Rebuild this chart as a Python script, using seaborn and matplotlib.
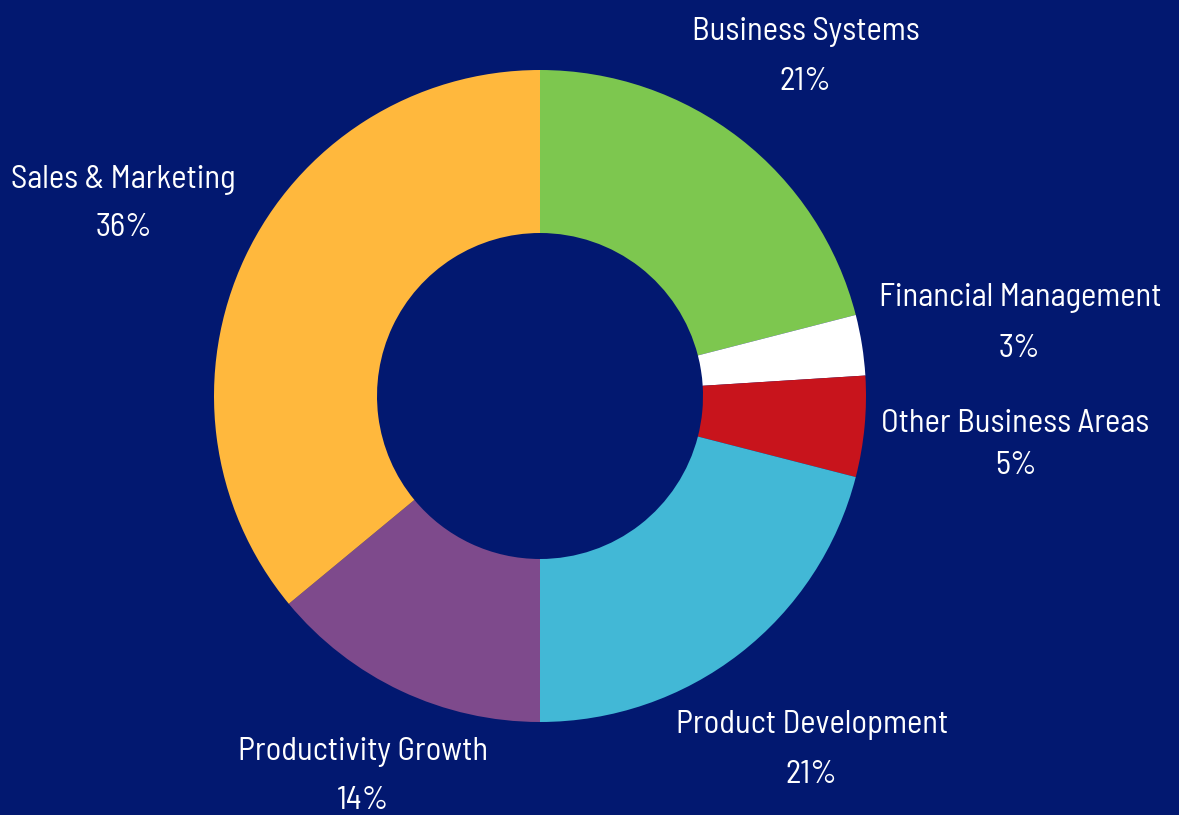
import matplotlib
matplotlib.use("Agg")
import matplotlib.pyplot as plt
import numpy as np
import seaborn as sns

# Budget share by business area (percent), clockwise from 12 o'clock
categories = ["Business Systems", "Financial Management", "Other Business Areas",
              "Product Development", "Productivity Growth", "Sales & Marketing"]
shares = [21, 3, 5, 21, 14, 36]
colors = ["#7DC74F", "#FFFFFF", "#C8141C", "#42B8D6", "#7E4A8C", "#FFB83D"]

BG = "#021870"

sns.set_theme(style="white")
plt.rcParams["font.family"] = ["Barlow Semi Condensed", "DejaVu Sans"]

fig = plt.figure(figsize=(11.79, 8.15), dpi=100, facecolor=BG)
ax = fig.add_axes([0, 0, 1, 1])
ax.set_facecolor(BG)

wedges, _ = ax.pie(shares, colors=colors, startangle=90, counterclock=False,
                   radius=1.0, center=(0, 0),
                   wedgeprops=dict(width=0.5, edgecolor="none", linewidth=0))

# label block placement: radial distance (outer radius = 1) and the gap
# between the name line and the percentage line
label_r = [1.33, 1.49, 1.465, 1.36, 1.276, 1.412]
line_gap = [0.153, 0.156, 0.129, 0.153, 0.150, 0.147]
drop = 0.012  # nudge text down so glyphs (not line boxes) sit centred
for w, name, val, r, g in zip(wedges, categories, shares, label_r, line_gap):
    ang = np.deg2rad((w.theta1 + w.theta2) / 2)
    x, y = r * np.cos(ang), r * np.sin(ang) - drop
    style = dict(ha="center", va="center", color="white", fontsize=23.5, fontweight=400)
    ax.text(x, y + g / 2, name, **style)
    ax.text(x, y - g / 2, f"{val}%", **style)

ax.set_xlim(-540 / 326, (1179 - 540) / 326)
ax.set_ylim(-(815 - 396) / 326, 396 / 326)
ax.set_aspect("auto")
ax.axis("off")

fig.savefig("out.png", dpi=100, facecolor=BG)
